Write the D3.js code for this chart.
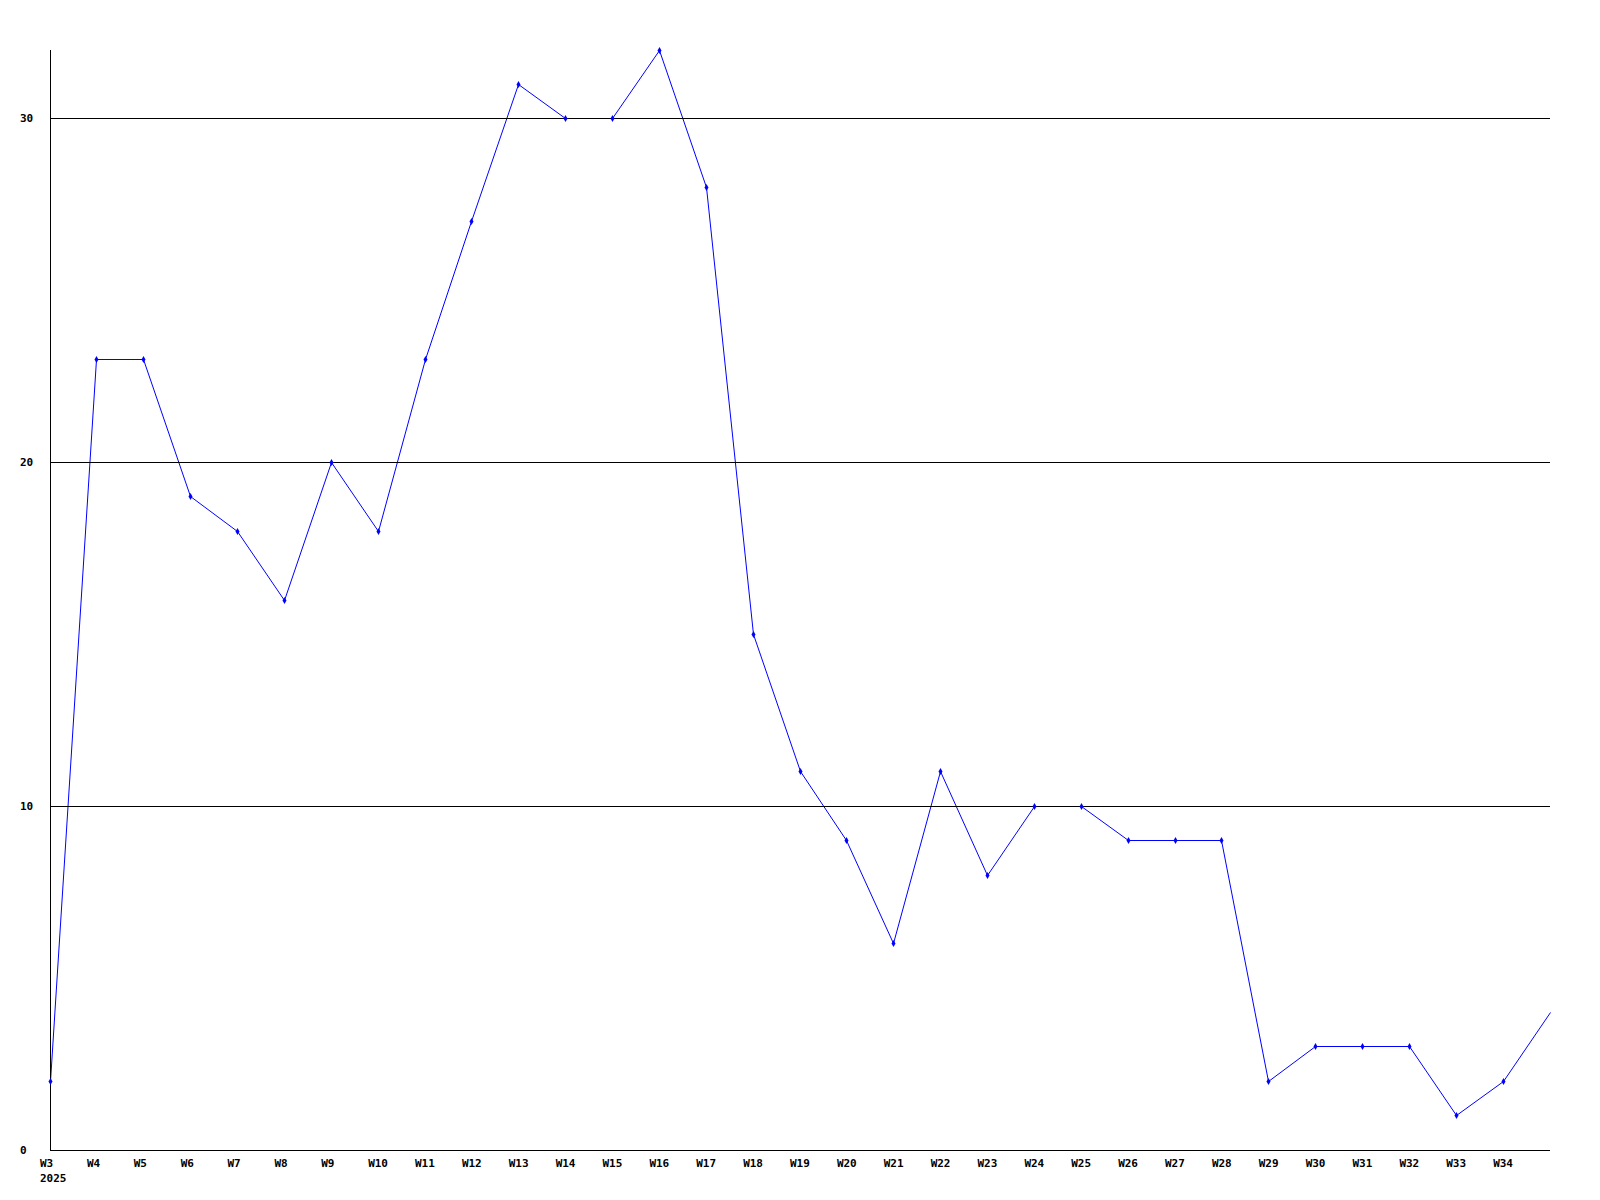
<!DOCTYPE html>
<html>
<head>
<meta charset="utf-8">
<script src="https://cdn.jsdelivr.net/npm/d3@7"></script>
<style>
  html, body { margin: 0; padding: 0; background: #fff; }
  svg { display: block; }
  text { font-family: "DejaVu Sans Mono", "Liberation Mono", monospace; font-weight: bold; font-size: 11px; fill: #000; }
</style>
</head>
<body>
<svg id="chart" width="1600" height="1200"></svg>
<script>
const weeks = ["W3","W4","W5","W6","W7","W8","W9","W10","W11","W12","W13","W14","W15","W16","W17","W18","W19","W20","W21","W22","W23","W24","W25","W26","W27","W28","W29","W30","W31","W32","W33","W34","W35"];
const values = [2,23,23,19,18,16,20,18,23,27,31,30,30,32,28,15,11,9,6,11,8,10,10,9,9,9,2,3,3,3,1,2,4];
const labeledWeeks = weeks.slice(0, 32);
const yTicks = [0, 10, 20, 30];
const yearLabel = "2025";

const svg = d3.select("#chart");
const pLeft = 50, pRight = 1550, pTop = 50, pBottom = 1150;

const x = d3.scalePoint().domain(weeks).range([pLeft, pRight]);
const y = d3.scaleLinear().domain([0, 32]).range([pBottom, pTop]);
const px = v => Math.floor(x(v)) + 0.5;
const py = v => Math.floor(y(v)) + 0.5;

const pts = weeks.map((w, i) => ({ w, v: values[i] }));

// series line
svg.append("path")
  .datum(pts)
  .attr("fill", "none")
  .attr("stroke", "#0000ff")
  .attr("stroke-width", 1)
  .attr("d", d3.line().x(d => px(d.w)).y(d => py(d.v)));

// gridlines
svg.append("g").selectAll("line").data(yTicks.filter(t => t > 0)).join("line")
  .attr("x1", pLeft).attr("x2", pRight)
  .attr("y1", d => py(d)).attr("y2", d => py(d))
  .attr("stroke", "#000").attr("stroke-width", 1);

// axes lines
svg.append("line").attr("x1", pLeft + 0.5).attr("x2", pLeft + 0.5).attr("y1", pTop).attr("y2", pBottom + 1)
  .attr("stroke", "#000");
svg.append("line").attr("x1", pLeft).attr("x2", pRight).attr("y1", pBottom + 0.5).attr("y2", pBottom + 0.5)
  .attr("stroke", "#000");

// markers
svg.append("g").selectAll("path").data(pts.slice(0, pts.length - 1)).join("path")
  .attr("d", d3.symbol().type(d3.symbolDiamond).size(14))
  .attr("transform", d => `translate(${px(d.w)},${py(d.v)})`)
  .attr("fill", "#0000ff");

// y labels
svg.append("g").selectAll("text").data(yTicks).join("text")
  .attr("x", 20).attr("y", d => py(d))
  .attr("dy", "0.35em")
  .attr("text-anchor", "start")
  .text(d => d);

// x labels
svg.append("g").selectAll("text").data(labeledWeeks).join("text")
  .attr("x", d => x(d) - 10).attr("y", 1163)
  .attr("dy", "0.35em")
  .attr("text-anchor", "start")
  .text(d => d);

svg.append("text").attr("x", x(weeks[0]) - 10).attr("y", 1178).attr("dy", "0.35em").text(yearLabel);
</script>
</body>
</html>
